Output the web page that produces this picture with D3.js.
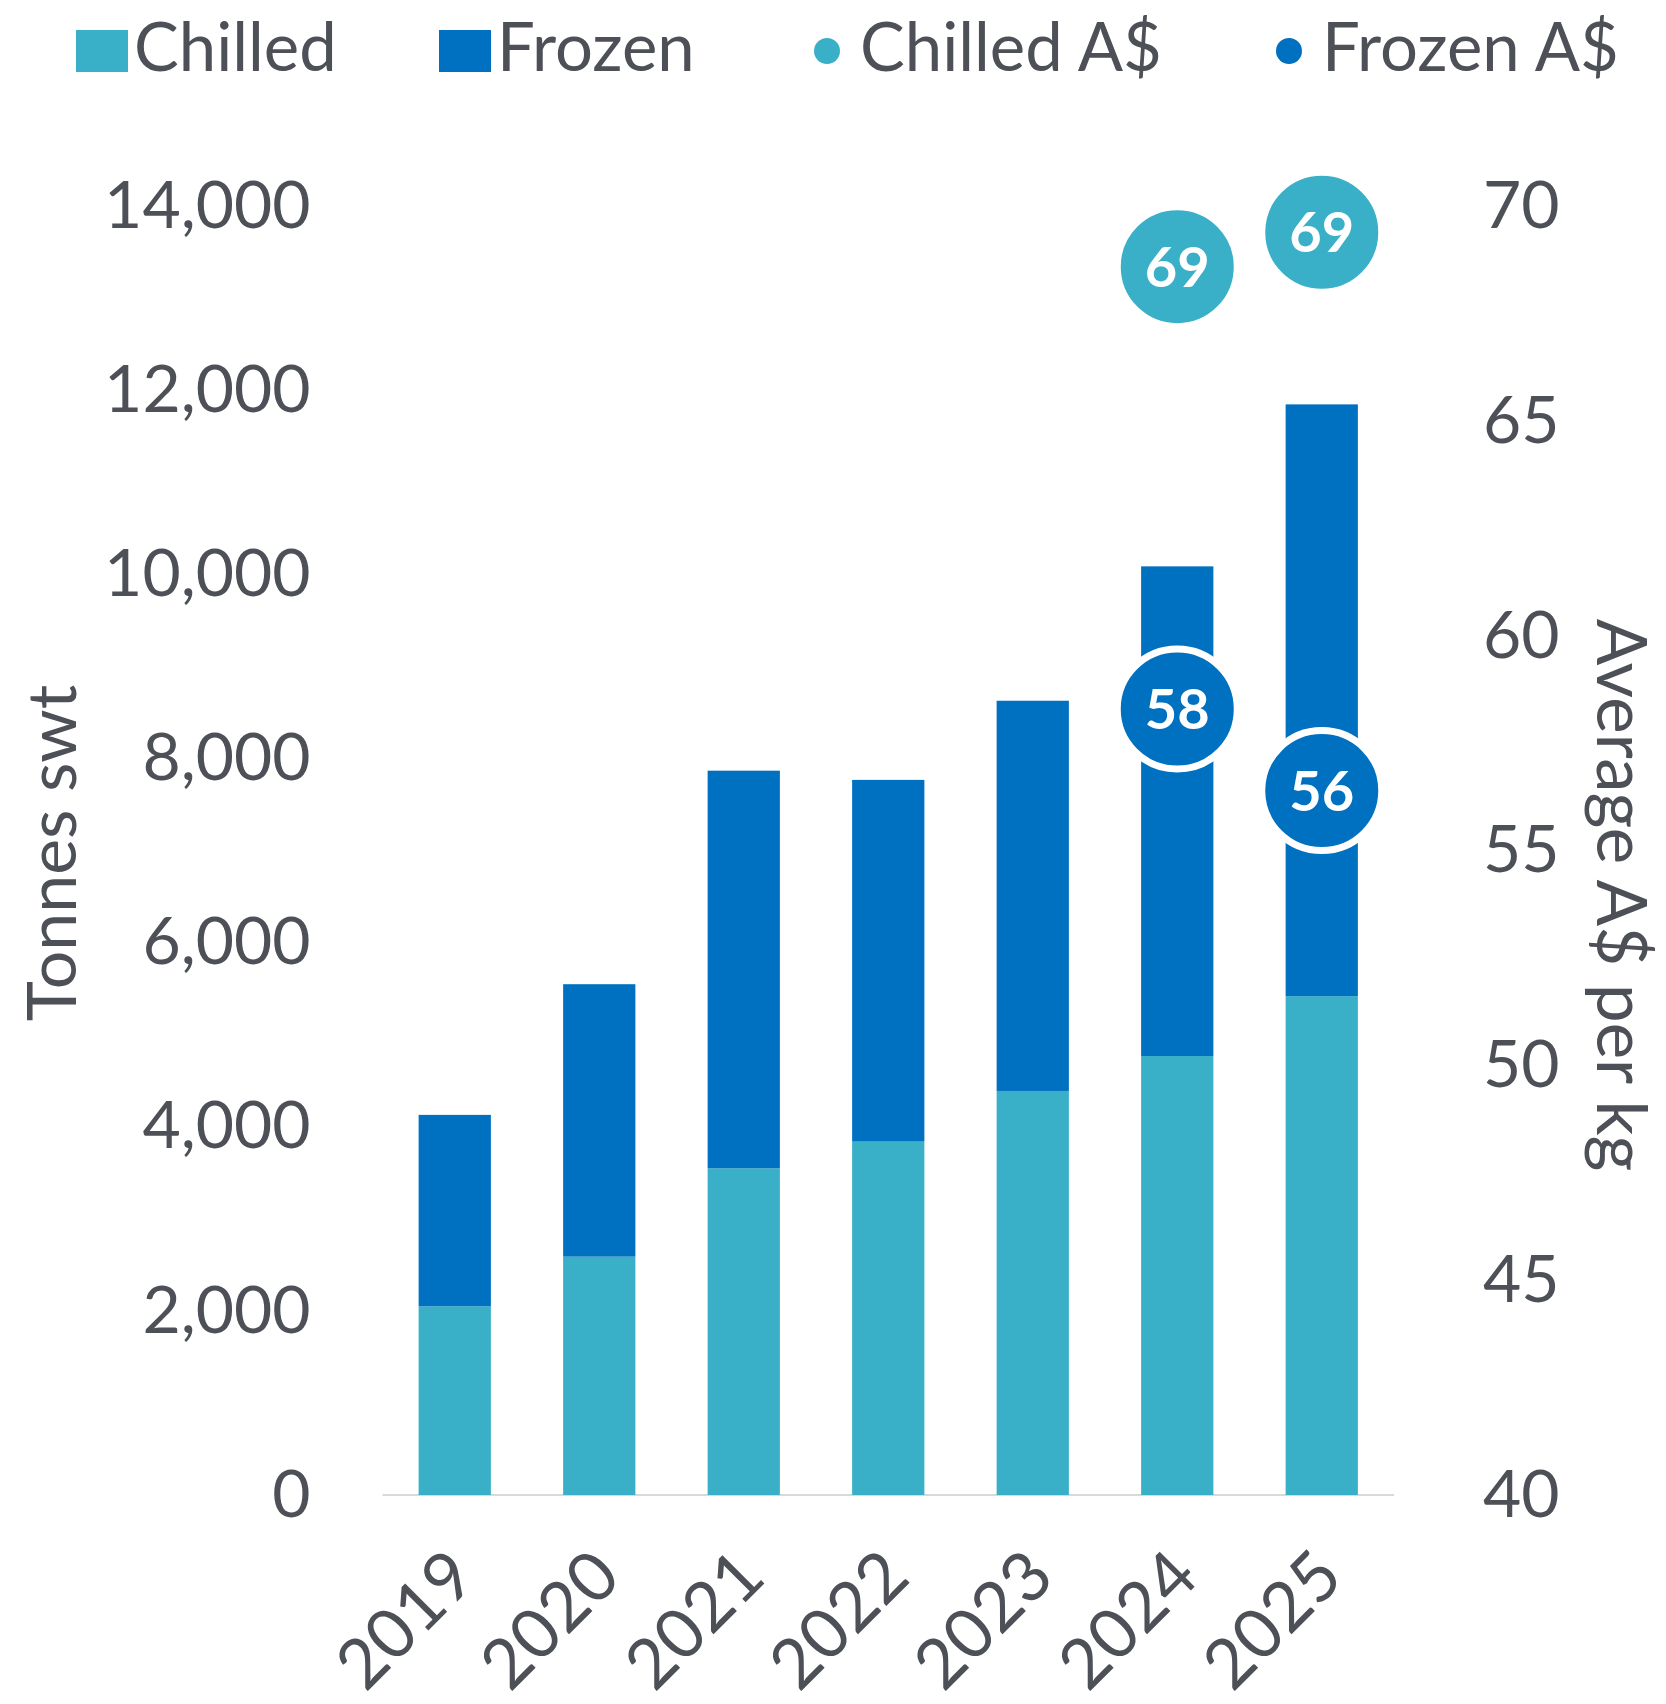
<!DOCTYPE html>
<html>
<head>
<meta charset="utf-8">
<script src="https://cdn.jsdelivr.net/npm/d3@7"></script>
<style>
  body { margin: 0; background: #fff; }
  svg { display: block; font-family: Lato, 'Open Sans', sans-serif; }
  .axis text { fill: #4d5057; font-size: 66px; font-family: Lato, sans-serif; }
  .xlabels text { font-size: 69px; }
</style>
</head>
<body>
<div id="svg-container"></div>
<script>
const years = ['2019', '2020', '2021', '2022', '2023', '2024', '2025'];
const chilled = [2050, 2590, 3550, 3840, 4390, 4770, 5420];
const frozen = [2080, 2960, 4320, 3930, 4240, 5320, 6430];
const chilledPrice = [null, null, null, null, null, 68.6, 69.4];
const frozenPrice = [null, null, null, null, null, 58.3, 56.4];
const tonneTicks = [0, 2000, 4000, 6000, 8000, 10000, 12000, 14000];
const priceTicks = [40, 45, 50, 55, 60, 65, 70];

const WIDTH = 1666;
const HEIGHT = 1704;
const chilledColor = '#3aafc8';
const frozenColor = '#0070c0';
const textColor = '#4d5057';

const drawChart = () => {
  const svg = d3.create('svg').attr('width', WIDTH).attr('height', HEIGHT);

  const x = d3
    .scaleBand()
    .domain(years)
    .range([382.5, 1394])
    .paddingInner(0.5)
    .paddingOuter(0.25);

  const y = d3.scaleLinear().domain([0, 14000]).range([1495, 206.5]);
  const yPrice = d3.scaleLinear().domain([40, 70]).range([1495, 206.5]);

  const rows = years.map((year, i) => ({
    year,
    chilled: chilled[i],
    frozen: frozen[i],
  }));
  const stacked = d3.stack().keys(['chilled', 'frozen'])(rows);
  const colors = { chilled: chilledColor, frozen: frozenColor };

  // baseline
  svg
    .append('line')
    .attr('x1', x.range()[0])
    .attr('x2', x.range()[1])
    .attr('y1', y(0))
    .attr('y2', y(0))
    .style('stroke', '#d9d9d9')
    .style('stroke-width', 2);

  svg
    .append('g')
    .selectAll('g')
    .data(stacked)
    .join('g')
    .style('fill', (series) => colors[series.key])
    .selectAll('rect')
    .data((series) => series)
    .join('rect')
    .attr('x', (d) => x(d.data.year))
    .attr('width', x.bandwidth())
    .attr('y', (d) => y(d[1]))
    .attr('height', (d) => y(d[0]) - y(d[1]));

  // left axis
  const leftAxis = d3
    .axisLeft(y)
    .tickValues(tonneTicks)
    .tickFormat(d3.format(','))
    .tickSize(0)
    .tickPadding(72);
  svg
    .append('g')
    .attr('class', 'axis')
    .attr('transform', `translate(${x.range()[0]}, 0)`)
    .call(leftAxis)
    .call((g) => g.select('.domain').remove());

  // right axis
  const rightAxis = d3
    .axisRight(yPrice)
    .tickValues(priceTicks)
    .tickSize(0)
    .tickPadding(89);
  svg
    .append('g')
    .attr('class', 'axis')
    .attr('transform', `translate(${x.range()[1]}, 0)`)
    .call(rightAxis)
    .call((g) => g.select('.domain').remove());

  // x labels
  svg
    .append('g')
    .attr('class', 'axis xlabels')
    .selectAll('text')
    .data(years)
    .join('text')
    .attr('text-anchor', 'end')
    .attr(
      'transform',
      (year) =>
        `translate(${x(year) + x.bandwidth() / 2 + 24}, 1580) rotate(-45)`
    )
    .text((year) => year);

  // axis titles
  svg
    .append('text')
    .attr('transform', 'translate(76, 853) rotate(-90)')
    .attr('text-anchor', 'middle')
    .style('font-size', '68px')
    .style('fill', textColor)
    .text('Tonnes swt');

  svg
    .append('text')
    .attr('transform', 'translate(1597, 895) rotate(90)')
    .attr('text-anchor', 'middle')
    .style('font-size', '69px')
    .style('fill', textColor)
    .text('Average A$ per kg');

  // price dots
  const dotSeries = [
    { values: chilledPrice, color: chilledColor },
    { values: frozenPrice, color: frozenColor },
  ];

  dotSeries.forEach((series) => {
    const points = years
      .map((year, i) => ({ year, value: series.values[i] }))
      .filter((p) => p.value !== null);

    const dots = svg
      .append('g')
      .selectAll('g')
      .data(points)
      .join('g')
      .attr(
        'transform',
        (p) => `translate(${x(p.year) + x.bandwidth() / 2}, ${yPrice(p.value)})`
      );

    dots
      .append('circle')
      .attr('r', 60)
      .style('fill', series.color)
      .style('stroke', '#fff')
      .style('stroke-width', 7);

    dots
      .append('text')
      .attr('text-anchor', 'middle')
      .attr('dy', '0.36em')
      .style('font-size', '56px')
      .style('font-weight', 'bold')
      .style('fill', '#fff')
      .text((p) => Math.round(p.value));
  });

  // legend
  const legendItems = [
    { label: 'Chilled', color: chilledColor, shape: 'rect', x: 76 },
    { label: 'Frozen', color: frozenColor, shape: 'rect', x: 439 },
    { label: 'Chilled A$', color: chilledColor, shape: 'circle', x: 814 },
    { label: 'Frozen A$', color: frozenColor, shape: 'circle', x: 1276 },
  ];

  const legend = svg
    .append('g')
    .selectAll('g')
    .data(legendItems)
    .join('g')
    .attr('transform', (item) => `translate(${item.x}, 0)`);

  legend
    .filter((item) => item.shape === 'rect')
    .append('rect')
    .attr('y', 30)
    .attr('width', 52)
    .attr('height', 42)
    .style('fill', (item) => item.color);

  legend
    .filter((item) => item.shape === 'circle')
    .append('circle')
    .attr('cx', 13)
    .attr('cy', 51)
    .attr('r', 13)
    .style('fill', (item) => item.color);

  legend
    .append('text')
    .attr('x', (item) => (item.shape === 'rect' ? 58 : 46))
    .attr('y', 71)
    .style('font-size', '67px')
    .style('fill', textColor)
    .text((item) => item.label);

  document.getElementById('svg-container').appendChild(svg.node());
};

drawChart();
</script>
</body>
</html>
